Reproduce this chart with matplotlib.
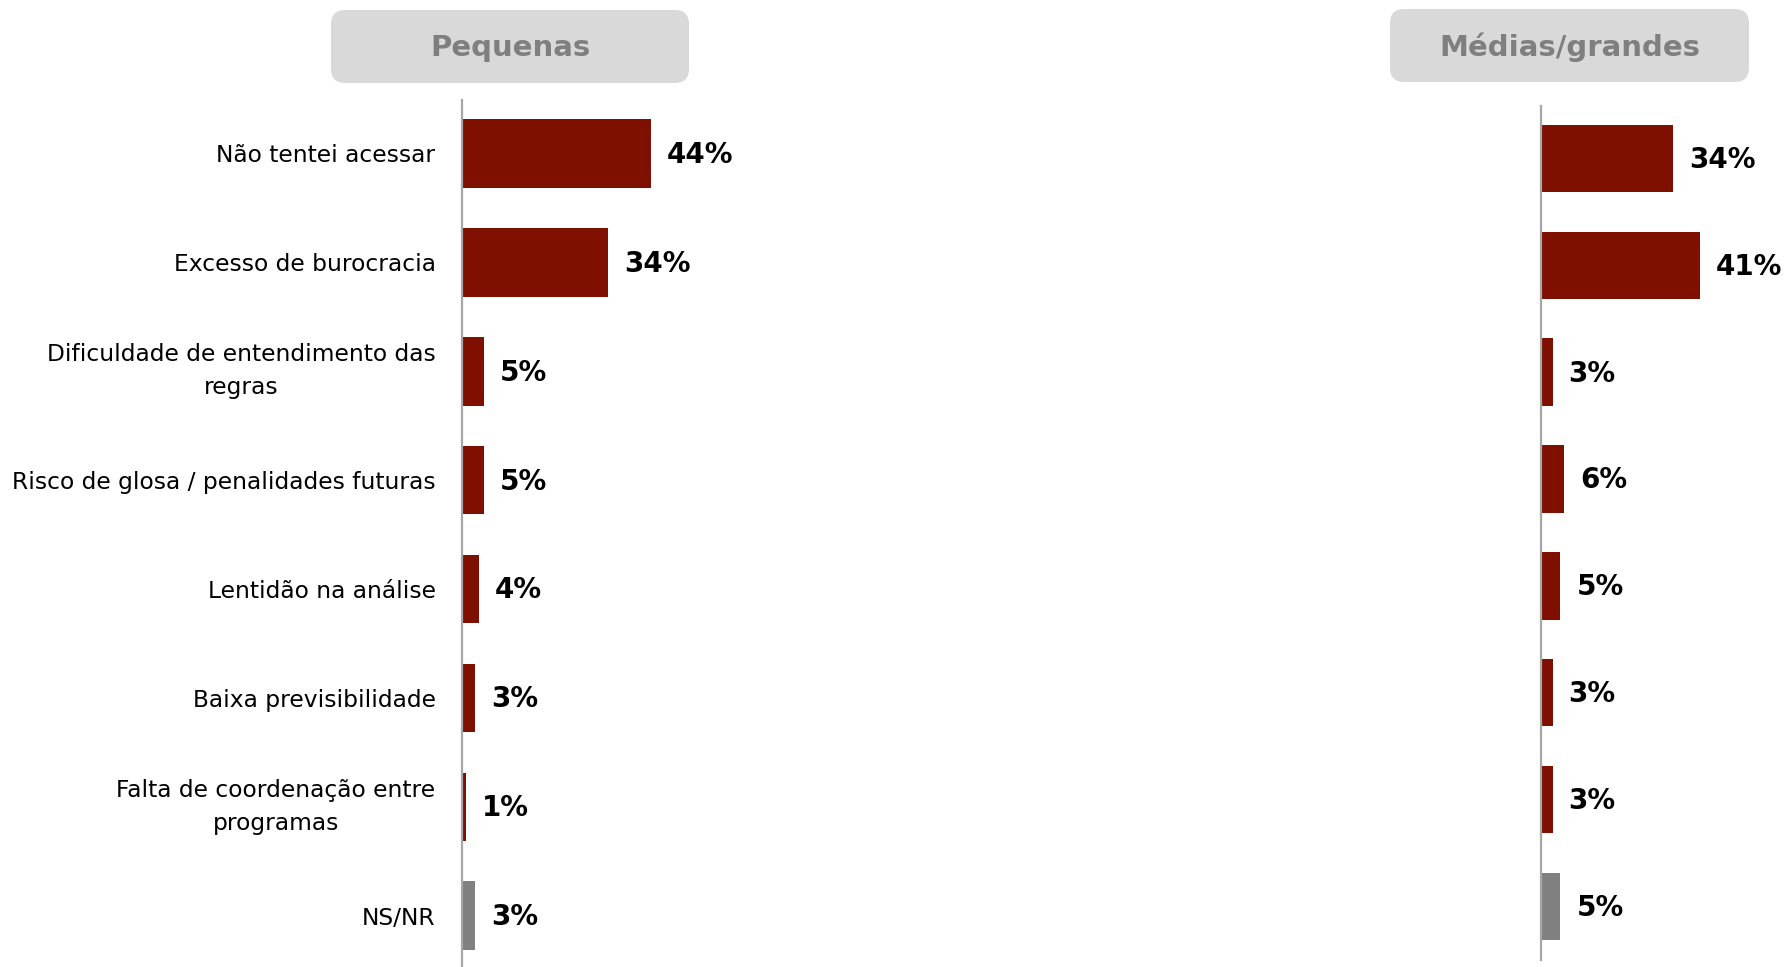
import matplotlib
matplotlib.use("Agg")
import matplotlib.pyplot as plt
from matplotlib.patches import FancyBboxPatch

# dados
categorias = ["Não tentei acessar", "Excesso de burocracia",
              "Dificuldade de entendimento das\nregras",
              "Risco de glosa / penalidades futuras", "Lentidão na análise",
              "Baixa previsibilidade", "Falta de coordenação entre\nprogramas",
              "NS/NR"]
pequenas = [44, 34, 5, 5, 4, 3, 1, 3]
medias_grandes = [34, 41, 3, 6, 5, 3, 3, 5]
titulos = ["Pequenas", "Médias/grandes"]

VERMELHO = "#7f1000"
CINZA = "#808080"
cores = [VERMELHO] * 7 + [CINZA]

W, H = 1785, 967
fig = plt.figure(figsize=(W / 100, H / 100), dpi=100)
plt.rcParams['font.family'] = ['DejaVu Sans']


def eixo(x0, y0, y1, largura):
    # posicao em pixels -> fracao da figura
    return fig.add_axes([x0 / W, 1 - y1 / H, largura / W, (y1 - y0) / H])


ax1 = eixo(462, 100, 967, 430)
ax2 = eixo(1541, 106, 960, 233)

for ax, valores, xmax, ylim in [(ax1, pequenas, 100, (7.47, -0.49)),
                                (ax2, medias_grandes, 60, (7.5, -0.49))]:
    y = range(len(valores))
    ax.barh(y, valores, height=0.63, color=cores)
    ax.set_xlim(0, xmax)
    ax.set_ylim(*ylim)
    for s in ["top", "right", "bottom"]:
        ax.spines[s].set_visible(False)
    ax.spines["left"].set_color("#a6a6a6")
    ax.spines["left"].set_linewidth(1.6)
    ax.set_xticks([])
    ax.tick_params(axis="y", length=0, pad=19)
    for i, v in enumerate(valores):
        ax.annotate("{}%".format(v), (v, i), xytext=(11.5, -1),
                    textcoords="offset points", va="center", ha="left",
                    fontsize=20, fontweight="bold", color="black")

ax1.set_yticks(range(len(categorias)))
ax1.set_yticklabels(categorias, fontsize=16.8)
for t in ax1.get_yticklabels():
    t.set_multialignment("center")
    t.set_linespacing(1.55)
    if "\n" in t.get_text():
        t.set_verticalalignment("center")
ax2.set_yticks([])

# caixas dos titulos
for (x0, x1, y0, y1), titulo in zip([(331, 689, 10, 83), (1390, 1749, 9, 82)], titulos):
    caixa = FancyBboxPatch((x0 / W, 1 - y1 / H), (x1 - x0) / W, (y1 - y0) / H,
                           boxstyle="round,pad=0,rounding_size=0.008",
                           transform=fig.transFigure, facecolor="#d9d9d9",
                           edgecolor="none", mutation_aspect=W / H)
    fig.patches.append(caixa)
    fig.text((x0 + x1) / 2 / W, 1 - (y0 + y1) / 2 / H - 0.002, titulo, ha="center",
             va="center", fontsize=21, fontweight="bold", color="#7f7f7f")

fig.savefig("out.png", dpi=100)
